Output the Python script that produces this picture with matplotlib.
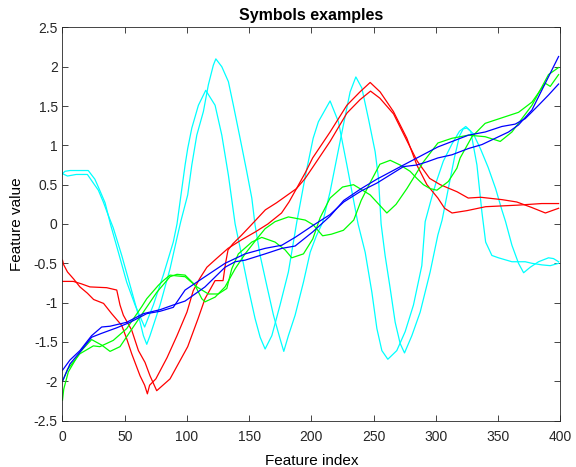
import numpy as np
import matplotlib
matplotlib.use('Agg')
import matplotlib.pyplot as plt

plt.rcParams['font.family'] = ['Liberation Sans', 'DejaVu Sans']
plt.rcParams['axes.unicode_minus'] = False

# cyan curve with the higher first peak
cyan_a_x = [0, 4, 11, 20, 24.8, 28.8, 32.8, 36.8, 40.8, 47.6, 54.3, 61, 65, 67.7, 70.3, 78.4, 86.4, 91.8, 95,
            100.6, 103.9, 107.9, 113.2, 117.2, 121.2, 123.2, 128, 133.3, 137.3, 142.7, 148, 152.1, 154.7,
            158.8, 164.1, 169.5, 174.8, 177.8, 181.5, 186.9, 193.6, 199, 204, 209, 215, 220.4, 225.7, 231.1,
            235.7, 240.5, 245.8, 251.2, 253.9, 256, 259.2, 263.3, 267.3, 271.3, 274.8, 280.7, 287.4, 295.4,
            301.6, 305, 310, 315, 319, 322, 325, 330, 336, 342, 348, 353, 356, 361.1, 366.4, 370.5, 375.8,
            382.5, 390.5, 394.5, 398.6]
cyan_a_y = [0.64, 0.61, 0.63, 0.63, 0.52, 0.43, 0.28, 0.11, -0.05, -0.40, -0.78, -1.16, -1.42, -1.53, -1.42,
            -1.03, -0.57, -0.19, 0.03, 0.37, 0.75, 1.13, 1.43, 1.77, 2.02, 2.10, 2.00, 1.81, 1.51, 1.09, 0.67,
            0.33, -0.01, -0.40, -0.78, -1.16, -1.46, -1.62, -1.42, -1.16, -0.74, -0.36, -0.15, 0.02, 0.41, 0.84,
            1.26, 1.68, 1.87, 1.73, 1.34, 0.92, 0.58, 0.0, -0.40, -0.82, -1.25, -1.52, -1.64, -1.42, -1.12, -0.61,
            -0.14, 0.05, 0.45, 0.85, 1.12, 1.21, 1.22, 1.15, 0.95, 0.72, 0.45, 0.18, 0.03, -0.27, -0.50, -0.62,
            -0.55, -0.48, -0.43, -0.44, -0.48]

# cyan curve with the lower first peak
cyan_b_x = [0, 2, 6, 20.7, 26, 28.8, 34.2, 38.5, 44.9, 51.6, 58.3, 66, 73, 81, 89, 92, 98.5, 100.6, 103.9,
            109.2, 115.1, 122.6, 128, 133.3, 138.7, 144, 149.4, 154.7, 158.8, 162.8, 168.2, 174.8, 181.5, 188.3,
            195, 201.4, 205.6, 215, 221.7, 228.5, 237.5, 243.2, 248.6, 252.6, 256.6, 261.4, 268.6, 275.3, 282,
            288.7, 291.4, 296, 300, 306, 313, 319, 324, 328, 333, 337, 340, 345, 350.3, 361.1, 371.8, 377.2,
            385.2, 391.9, 398.6]
cyan_b_y = [0.64, 0.67, 0.68, 0.68, 0.57, 0.47, 0.27, 0.0, -0.36, -0.74, -1.03, -1.31, -1.03, -0.65, -0.23,
            0.0, 0.75, 0.96, 1.22, 1.51, 1.70, 1.51, 1.13, 0.62, 0.0, -0.40, -0.82, -1.20, -1.44, -1.59, -1.42,
            -1.03, -0.61, 0.03, 0.60, 1.09, 1.30, 1.565, 1.30, 0.75, 0.0, -0.36, -0.87, -1.33, -1.61, -1.72,
            -1.61, -1.37, -1.03, -0.53, 0.03, 0.30, 0.52, 0.80, 1.02, 1.18, 1.24, 1.18, 0.75, 0.15, -0.23,
            -0.40, -0.43, -0.48, -0.48, -0.50, -0.52, -0.53, -0.50]

# red curve with the deeper dip
red_a_x = [0, 1, 4, 9, 14, 20, 25, 33, 39.5, 47.6, 51.6, 55.6, 62.3, 66, 68.2, 70, 75, 84, 92, 100, 105, 110,
           116, 123, 133, 144, 155, 165, 176, 182, 188, 195, 201, 215, 228.5, 239, 247.2, 255.2, 265.9, 276.7,
           284.7, 292.8, 301.6, 307, 313, 325, 340, 366, 385, 398.6]
red_a_y = [-0.46, -0.52, -0.61, -0.70, -0.80, -0.88, -0.96, -1.01, -1.14, -1.29, -1.46, -1.65, -1.93, -2.05,
           -2.16, -2.05, -1.97, -1.70, -1.42, -1.12, -0.85, -0.70, -0.55, -0.45, -0.31, -0.20, -0.10, 0.0, 0.14,
           0.28, 0.45, 0.65, 0.84, 1.17, 1.51, 1.68, 1.80, 1.68, 1.43, 1.09, 0.75, 0.50, 0.33, 0.20, 0.14, 0.17,
           0.22, 0.24, 0.26, 0.26]

# red curve with the flat start
red_b_x = [0, 8.7, 15, 22, 35.5, 43.6, 46.2, 48.9, 55.6, 61, 66.3, 70.3, 75.7, 86.4, 100.6, 109, 114.5, 122.6,
           129, 131, 133, 137, 144, 150, 163, 172, 180, 188, 195, 201, 215, 228.5, 239, 247.5, 255, 266, 277,
           285, 295, 303.5, 317, 326, 336, 353, 365, 377, 388, 398.6]
red_b_y = [-0.73, -0.73, -0.76, -0.80, -0.81, -0.84, -1.03, -1.16, -1.35, -1.61, -1.76, -1.93, -2.12, -1.97,
           -1.56, -1.20, -0.95, -0.72, -0.72, -0.50, -0.33, -0.25, -0.14, -0.04, 0.18, 0.27, 0.36, 0.45, 0.58,
           0.72, 1.05, 1.41, 1.58, 1.69, 1.60, 1.40, 1.05, 0.80, 0.58, 0.50, 0.41, 0.33, 0.34, 0.31, 0.28, 0.21,
           0.14, 0.20]

# green curve starting lowest
green_a_x = [0, 1, 4.7, 14, 23.4, 31.5, 38.2, 46.2, 54.3, 65, 75.7, 86.4, 92, 98.5, 108, 117.2, 125.2, 132,
             136, 141.3, 152.1, 160.1, 170.8, 178.9, 184.2, 193.6, 201.1, 207, 215, 225, 233.8, 247.2, 260.6,
             268, 276.7, 290, 301.6, 312.9, 326.2, 339.6, 347.7, 351.7, 361.1, 377.2, 390.5, 398.6]
green_a_y = [-2.24, -2.10, -1.88, -1.63, -1.47, -1.54, -1.62, -1.56, -1.37, -1.12, -0.87, -0.67, -0.64, -0.65,
             -0.80, -0.89, -0.89, -0.82, -0.57, -0.38, -0.23, -0.17, -0.23, -0.33, -0.43, -0.38, -0.19, 0.08,
             0.33, 0.47, 0.50, 0.37, 0.14, 0.25, 0.45, 0.79, 1.03, 1.09, 1.13, 1.11, 1.07, 1.05, 1.17, 1.51,
             1.90, 1.99]

# green curve starting at -2
green_b_x = [0, 4, 14, 24.8, 30, 40.8, 51.6, 63.7, 67.7, 77, 81, 86.4, 92, 98.5, 106.5, 111.9, 114.5, 122.6,
             130.6, 138.7, 146.7, 156.1, 162.8, 170.8, 181.5, 195, 201.4, 209, 216, 225.7, 234, 240, 247, 255,
             263.3, 271.3, 279.3, 284.7, 290, 295.4, 300.8, 310, 316.9, 319.5, 329, 339.6, 353, 366.4, 377.2,
             387.9, 391.9, 398.6]
green_b_y = [-2.00, -1.85, -1.65, -1.55, -1.56, -1.48, -1.33, -1.05, -0.95, -0.78, -0.72, -0.65, -0.66, -0.67,
             -0.78, -0.95, -0.99, -0.93, -0.80, -0.57, -0.38, -0.19, -0.06, 0.03, 0.09, 0.05, -0.01, -0.15,
             -0.13, -0.08, 0.05, 0.30, 0.52, 0.76, 0.81, 0.75, 0.67, 0.58, 0.50, 0.45, 0.43, 0.54, 0.71, 0.84,
             1.11, 1.28, 1.35, 1.42, 1.55, 1.79, 1.75, 1.90]

# blue curve ending at 1.78
blue_a_x = [0, 6, 14, 23.4, 31.5, 38.2, 51.6, 65, 78.4, 89, 98.5, 114.5, 130.6, 138.7, 146.7, 162.8, 176.2,
            186.9, 201.1, 215, 226, 240, 252.6, 274, 301.6, 326.2, 339.6, 353, 363.7, 371.8, 382.5, 390.5, 398.6]
blue_a_y = [-1.86, -1.73, -1.61, -1.42, -1.31, -1.30, -1.25, -1.14, -1.09, -1.03, -0.98, -0.80, -0.55, -0.48,
            -0.46, -0.38, -0.31, -0.28, -0.10, 0.10, 0.30, 0.45, 0.57, 0.75, 0.98, 1.13, 1.17, 1.24, 1.27, 1.34,
            1.51, 1.64, 1.78]

# blue curve ending at 2.13
blue_b_x = [0, 6, 14, 23.4, 31.5, 43.6, 54.3, 67.7, 78.4, 89, 98.5, 114.5, 130.6, 146.7, 162.8, 176.2, 186.9,
            201.1, 215, 226, 240, 252.6, 274, 284.7, 292.8, 301.6, 312.9, 326.2, 337, 347.7, 358.4, 366.4,
            377.2, 387.9, 398.6]
blue_b_y = [-2.00, -1.78, -1.63, -1.44, -1.39, -1.32, -1.25, -1.14, -1.11, -1.06, -0.84, -0.67, -0.50, -0.38,
            -0.31, -0.27, -0.17, -0.02, 0.12, 0.28, 0.42, 0.52, 0.73, 0.75, 0.79, 0.84, 0.88, 0.96, 1.01, 1.09,
            1.17, 1.26, 1.45, 1.79, 2.13]

y_ticks = [-2.5, -2, -1.5, -1, -0.5, 0, 0.5, 1, 1.5, 2, 2.5]
x_ticks = [0, 50, 100, 150, 200, 250, 300, 350, 400]

fig = plt.figure(figsize=(5.76, 4.67), dpi=100)
ax = fig.add_axes([0.1085, 0.0994, 0.8643, 0.8419])

lw = 0.9
ax.plot(cyan_a_x, cyan_a_y, color=(0, 1, 1), lw=lw)
ax.plot(cyan_b_x, cyan_b_y, color=(0, 1, 1), lw=lw)
ax.plot(red_a_x, red_a_y, color=(1, 0, 0), lw=lw)
ax.plot(red_b_x, red_b_y, color=(1, 0, 0), lw=lw)
ax.plot(green_a_x, green_a_y, color=(0, 1, 0), lw=lw)
ax.plot(green_b_x, green_b_y, color=(0, 1, 0), lw=lw)
ax.plot(blue_a_x, blue_a_y, color=(0, 0, 1), lw=lw)
ax.plot(blue_b_x, blue_b_y, color=(0, 0, 1), lw=lw)

ax.set_xlim(0, 400)
ax.set_ylim(-2.5, 2.5)
ax.set_xticks(x_ticks)
ax.set_yticks(y_ticks)
ax.set_yticklabels(['{:g}'.format(v) for v in y_ticks])
ax.tick_params(direction='in', top=True, right=True, labelsize=10, length=4, width=0.6, colors='#262626')
ax.tick_params(axis='x', pad=7)
for s in ax.spines.values():
    s.set_linewidth(0.6)
    s.set_color('#262626')

ax.set_title('Symbols examples', fontsize=11.5, fontweight='bold', pad=5)
ax.set_xlabel('Feature index', fontsize=11, labelpad=7)
ax.set_ylabel('Feature value', fontsize=11, labelpad=7)

plt.savefig('out.png', dpi=100)
